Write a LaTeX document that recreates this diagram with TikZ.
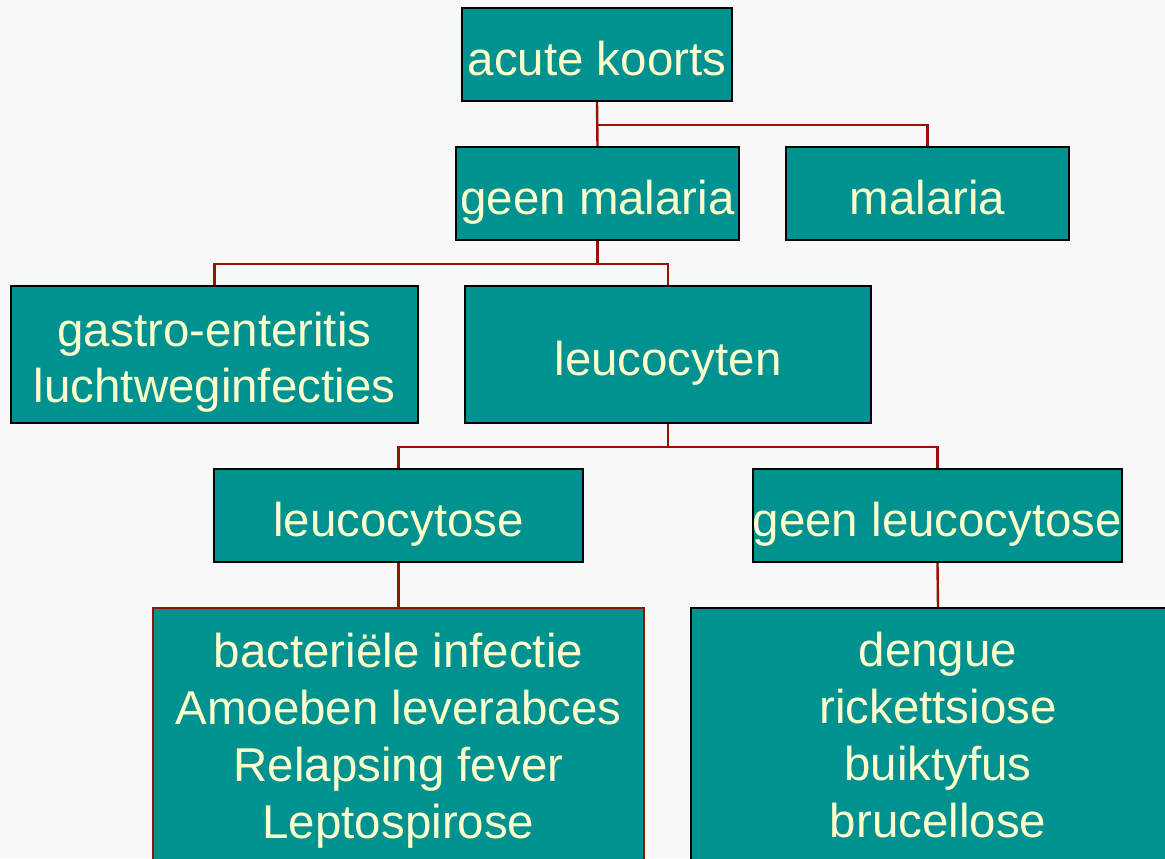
\documentclass[tikz,border=0pt]{standalone}
\usepackage{fontspec}
\setmainfont{Liberation Sans}
\definecolor{teal}{HTML}{009191}
\definecolor{cream}{HTML}{FFFFCC}
\definecolor{conn}{HTML}{991100}
\definecolor{bg}{HTML}{F8F8F8}
\begin{document}
\begin{tikzpicture}[x=0.75pt,y=-0.75pt,
  box/.style={draw=black, line width=1.8pt, fill=teal, text=cream, inner sep=0pt,
    align=center, font=\fontsize{35.6}{42.75}\selectfont},
  small/.style={minimum width=#1*0.75pt, minimum height=69.75pt, text height=31.5pt, text depth=0pt},
  link/.style={draw=conn, line width=1.8pt}]
\useasboundingbox (0,0) rectangle (1165,858);
\clip (0,0) rectangle (1165,858);
\fill[bg] (0,0) rectangle (1165,858);

\node[box, small=270] (acute) at (597,54.5) {acute koorts};
\node[box, small=283] (gm) at (597.5,193.5) {geen malaria};
\node[box, small=283] (mal) at (927.5,193.5) {malaria};
\node[box, minimum width=305.25pt, minimum height=102.75pt,
  font=\fontsize{35.6}{41.5}\selectfont] (gastro) at (214.5,354.5) {\rule{0pt}{1.05em}gastro-enteritis\\luchtweginfecties};
\node[box, minimum width=304.5pt, minimum height=102.75pt, text height=31.5pt, text depth=0pt] (leuco) at (668,354.5) {leucocyten};
\node[box, small=369] (lcose) at (398.5,515.5) {leucocytose};
\node[box, small=369] (glcose) at (937.5,515.5) {geen leucocytose};
\node[box, draw=conn, minimum width=368.25pt, minimum height=198.75pt] (bact) at (398.5,740.5)
  {bacteriële infectie\\Amoeben leverabces\\Relapsing fever\\Leptospirose};
\node[box, minimum width=370.5pt, minimum height=191.25pt] (deng) at (938,735.5)
  {dengue\\rickettsiose\\buiktyfus\\brucellose};

\draw[link] (acute.south) -- (gm.north);
\draw[link] (acute.south) -- ++(0,23) -| (mal.north);
\draw[link] (gm.south) -- ++(0,23) -| (gastro.north);
\draw[link] (gm.south) -- ++(0,23) -| (leuco.north);
\draw[link] (leuco.south) -- ++(0,23) -| (lcose.north);
\draw[link] (leuco.south) -- ++(0,23) -| (glcose.north);
\draw[link] (lcose.south) -- (bact.north);
\draw[link] (glcose.south) -- (deng.north);
\end{tikzpicture}
\end{document}
